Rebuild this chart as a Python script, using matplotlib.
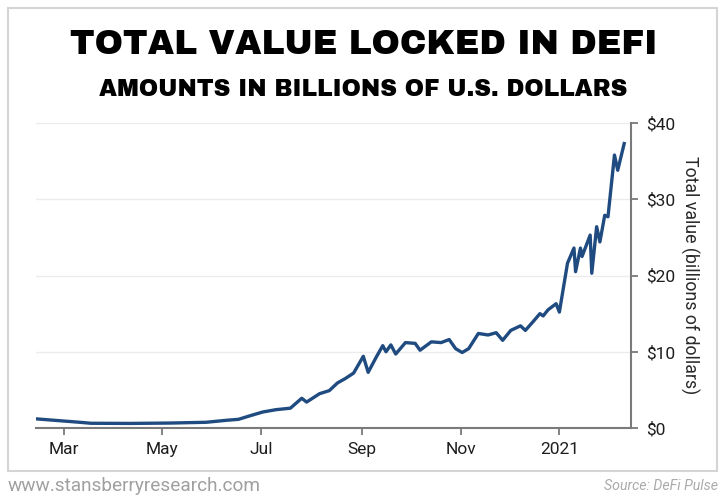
import matplotlib
matplotlib.use("Agg")
import matplotlib.pyplot as plt
from matplotlib.patches import Rectangle
import pandas as pd

# data (billions of USD)
dates = ['2020-02-13', '2020-03-11', '2020-03-18', '2020-04-11', '2020-05-06',
         '2020-05-28', '2020-06-09', '2020-06-17', '2020-06-24', '2020-07-02',
         '2020-07-10', '2020-07-19', '2020-07-26', '2020-07-29', '2020-08-06',
         '2020-08-12', '2020-08-17', '2020-08-22', '2020-08-27', '2020-09-02',
         '2020-09-05', '2020-09-10', '2020-09-14', '2020-09-16', '2020-09-19',
         '2020-09-22', '2020-09-28', '2020-10-04', '2020-10-07', '2020-10-14',
         '2020-10-20', '2020-10-25', '2020-10-29', '2020-11-02', '2020-11-06',
         '2020-11-12', '2020-11-18', '2020-11-23', '2020-11-27', '2020-12-02',
         '2020-12-08', '2020-12-11', '2020-12-16', '2020-12-20', '2020-12-22',
         '2020-12-25', '2020-12-30', '2021-01-01', '2021-01-06', '2021-01-10',
         '2021-01-11', '2021-01-14', '2021-01-15', '2021-01-20', '2021-01-21',
         '2021-01-24', '2021-01-26', '2021-01-29', '2021-01-31', '2021-02-04',
         '2021-02-06', '2021-02-10']
tvl = [1.2, 0.75, 0.62, 0.6, 0.65,
       0.75, 1.0, 1.14, 1.6, 2.1,
       2.4, 2.6, 3.9, 3.4, 4.5,
       4.9, 5.9, 6.5, 7.2, 9.4,
       7.3, 9.3, 10.8, 10.0, 10.9,
       9.7, 11.2, 11.1, 10.2, 11.3,
       11.2, 11.6, 10.4, 9.9, 10.4,
       12.4, 12.2, 12.5, 11.5, 12.8,
       13.4, 12.8, 14.0, 15.0, 14.7,
       15.5, 16.3, 15.2, 21.6, 23.6,
       20.5, 23.6, 22.5, 25.3, 20.3,
       26.4, 24.4, 27.9, 27.7, 35.8,
       33.8, 37.3]

tick_dates = ['2020-03-01', '2020-05-01', '2020-07-01', '2020-09-01', '2020-11-01', '2021-01-01']
tick_labels = ['Mar', 'May', 'Jul', 'Sep', 'Nov', '2021']
y_ticks = [0, 10, 20, 30, 40]
y_labels = ['$0', '$10', '$20', '$30', '$40']

title_font = ['Archivo Black', 'DejaVu Sans']
body_font = ['Roboto', 'DejaVu Sans']
axis_grey = '#7a7a7a'
line_blue = '#1f4b80'

fig = plt.figure(figsize=(7.27, 5.0), dpi=100)
fig.patch.set_facecolor('white')

# outer frame
fig.patches.append(Rectangle((0.011, 0.058), 0.975, 0.926, transform=fig.transFigure,
                             fill=False, edgecolor='#d4d4d4', linewidth=1.5))

ax = fig.add_axes([0.0495, 0.144, 0.818, 0.61])
ax.plot(pd.to_datetime(dates), tvl, color=line_blue, lw=2.4, solid_joinstyle='round')

ax.set_xlim(pd.Timestamp('2020-02-13'), pd.Timestamp('2021-02-14'))
ax.set_ylim(0, 40)

ax.yaxis.tick_right()
ax.yaxis.set_label_position('right')
ax.set_yticks(y_ticks)
ax.set_yticklabels(y_labels)
ax.set_xticks(pd.to_datetime(tick_dates))
ax.set_xticklabels(tick_labels)

for s in ['top', 'left']:
    ax.spines[s].set_visible(False)
for s in ['bottom', 'right']:
    ax.spines[s].set_color(axis_grey)
    ax.spines[s].set_linewidth(1.5)

ax.tick_params(axis='both', colors=axis_grey, length=5, width=1.3, labelcolor='#1e1e1e',
               labelsize=12.5)
ax.tick_params(axis='y', pad=6)
ax.tick_params(axis='x', pad=5)
for lab in ax.get_xticklabels() + ax.get_yticklabels():
    lab.set_family(body_font)

ax.grid(axis='y', color='#ececec', lw=1)
ax.set_axisbelow(True)

ax.set_ylabel('Total value (billions of dollars)', rotation=270, labelpad=17,
              fontsize=12.8, family=body_font, color='#2a2a2a')

fig.text(0.5, 0.91, 'TOTAL VALUE LOCKED IN DEFI', ha='center', va='center',
         fontsize=24.6, family=title_font)
fig.text(0.5, 0.82, 'AMOUNTS IN BILLIONS OF U.S. DOLLARS', ha='center', va='center',
         fontsize=16.7, family=title_font)

fig.text(0.011, 0.028, 'www.stansberryresearch.com', ha='left', va='center',
         fontsize=13.7, family=body_font, color='#a0a0a0')
fig.text(0.988, 0.028, 'Source: DeFi Pulse', ha='right', va='center',
         fontsize=10.2, family=body_font, style='italic', color='#aaaaaa')

fig.savefig('out.png', dpi=100)
